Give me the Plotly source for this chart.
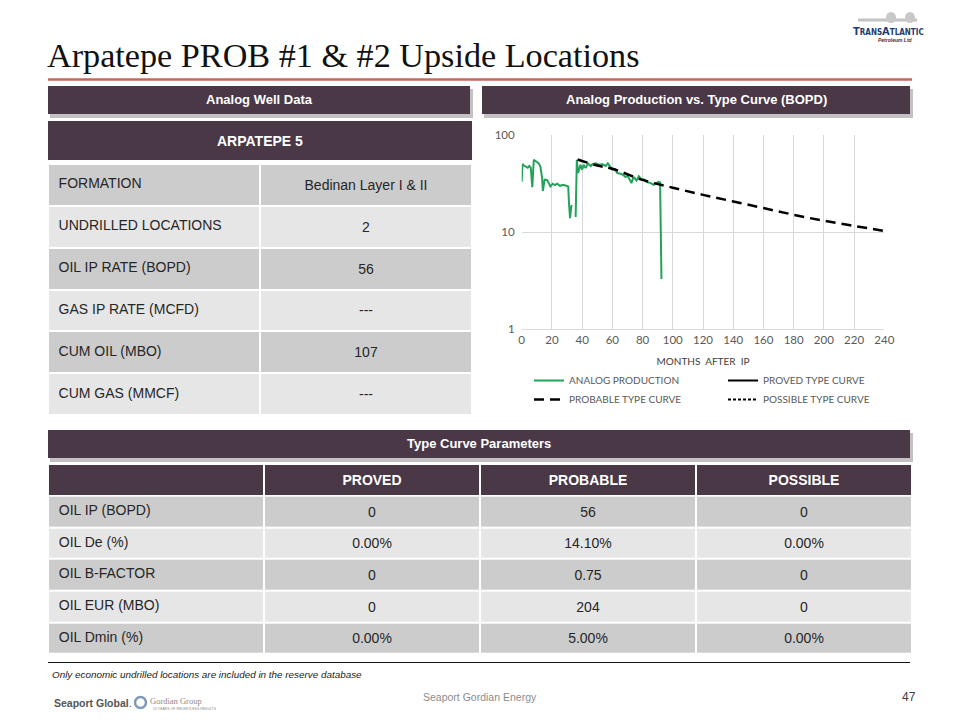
import plotly.graph_objects as go

# the page body has an 8px margin, so the figure is drawn 8px in and 16px smaller
OFF = 8
W, H = 944, 704
PLUM = "#4a3847"
SANS = "Liberation Sans, Arial, sans-serif"
SERIF = "Liberation Serif, Times New Roman, serif"
CHART_FONT = "Lato, Noto Sans, sans-serif"

# analog well data
well_name = "ARPATEPE 5"
well_labels = ["FORMATION", "UNDRILLED LOCATIONS", "OIL IP RATE (BOPD)",
               "GAS IP RATE (MCFD)", "CUM OIL (MBO)", "CUM GAS (MMCF)"]
well_values = ["Bedinan Layer I & II", "2", "56", "---", "107", "---"]

# type curve parameters
param_cols = ["PROVED", "PROBABLE", "POSSIBLE"]
param_labels = ["OIL IP (BOPD)", "OIL De (%)", "OIL B-FACTOR", "OIL EUR (MBO)", "OIL Dmin (%)"]
proved_vals = ["0", "0.00%", "0", "0", "0.00%"]
probable_vals = ["56", "14.10%", "0.75", "204", "5.00%"]
possible_vals = ["0", "0.00%", "0", "0", "0.00%"]

# production (BOPD vs months after IP)
analog_months = [0, 0.5, 1, 3, 4, 5, 6, 7, 8, 9.8, 11.3, 12.4, 13.5, 14, 15.2, 16.8,
                 17.9, 19, 20.5, 22, 23.5, 25.3, 27.5, 29.7, 30.8, 31.3, 32, 32.9, 33.4,
                 34.5, 35.7, 36.5, 37.3, 38.9, 40, 41, 42.3, 43.9, 45.7, 46.8, 49, 51,
                 53.4, 55.6, 57, 58.5, 60, 61.5, 63.3, 65.5, 67, 68.7, 70, 71.5, 72.6,
                 74, 76, 77.5, 79.3, 80.8, 82.5, 84, 85.5, 87.3, 89, 90.5, 91.6, 92.5]
analog_bopd = [33, 50.6, 49, 47.4, 46, 48, 46, 29, 55.6, 53, 51, 47, 36, 26.5, 34.7, 34.5,
               32, 29.5, 31.5, 30.5, 31.5, 30, 30.8, 29.8, 29.5, 20, 13.9, 18.8, 18.5,
               None, 14.3, 55.6, 40.6, 49.5, 43.9, 49.5, 45.6, 51, 48, 50, 51, 49.5,
               50, 48, 51, 47, 44, 44.5, 40.6, 39.9, 39, 36.9, 38, 34.7, 32,
               37, 34, 37.5, 34.7, 35, 33, 32.5, 32, 30.7, 32, 33, 32.5, 3.3]
probable_months = [37, 50, 60, 80, 100, 120, 140, 160, 180, 200, 220, 240]
probable_bopd = [56, 48.5, 45, 34.5, 28.7, 24.2, 20.7, 17.7, 15.1, 13.1, 11.6, 10.3]


def px(x):
    return (x - OFF) / W


def py(y):
    return 1 - (y - OFF) / H


shapes = []
annotations = []


def rect(x0, y0, x1, y1, color, opacity=1):
    shapes.append(dict(type="rect", xref="paper", yref="paper",
                       x0=px(x0), x1=px(x1), y0=py(y1), y1=py(y0),
                       fillcolor=color, line_width=0, opacity=opacity))


def text(s, x, y, size, color="#222222", family=SANS, xanchor="center"):
    annotations.append(dict(text=s, x=px(x), y=py(y), xref="paper", yref="paper",
                            showarrow=False, xanchor=xanchor, yanchor="middle",
                            font=dict(size=size, color=color, family=family)))


def bar(x0, y0, x1, y1, label, size=13, shadow=True):
    if shadow:
        rect(x0 + 2, y0 + 3, x1 + 3, y1 + 4, "#9a9a9a", 0.6)
    rect(x0, y0, x1, y1, PLUM)
    text("<b>%s</b>" % label, (x0 + x1) / 2, (y0 + y1) / 2, size, "white")


# title + rule
text("Arpatepe PROB #1 & #2 Upside Locations", 45, 56, 34.2, "#111111", SERIF, "left")
shapes.append(dict(type="line", xref="paper", yref="paper", x0=px(48), x1=px(912),
                   y0=py(79.5), y1=py(79.5), line=dict(color="#c06a5c", width=2.5)))

# transatlantic logo
shapes.append(dict(type="line", xref="paper", yref="paper", x0=px(858), x1=px(917),
                   y0=py(20), y1=py(20), line=dict(color="#c4c4c4", width=3)))
for cx in [891, 910]:
    shapes.append(dict(type="circle", xref="paper", yref="paper", x0=px(cx - 5), x1=px(cx + 5),
                       y0=py(23), y1=py(12), fillcolor="#c8c8c8", line_width=0))
text("<b>T<span style='font-size:8px'>RANS</span>A<span style='font-size:8px'>TLANTIC</span></b>",
     888, 31, 11, "#1f3b73", "Liberation Sans Narrow, DejaVu Sans Condensed, sans-serif")
text("<b><i>Petroleum Ltd</i></b>", 895, 39.5, 5, "#5a2a2a")

# section bars
bar(48, 86, 470, 114, "Analog Well Data")
bar(482, 86, 910, 114, "Analog Production vs. Type Curve (BOPD)")
bar(48, 121, 472, 160, well_name, 14, shadow=False)
bar(48, 430, 910, 458, "Type Curve Parameters")

# footnote + footer
shapes.append(dict(type="line", xref="paper", yref="paper", x0=px(48), x1=px(910),
                   y0=py(662.5), y1=py(662.5), line=dict(color="#111111", width=1)))
text("<i>Only economic undrilled locations are included in the reserve database</i>",
     50, 674, 9.9, "#222222", SANS, "left")
text("<b>Seaport Global</b>.", 52, 703, 10.5, "#555555", SANS, "left")
shapes.append(dict(type="circle", xref="paper", yref="paper", x0=px(135), x1=px(146),
                   y0=py(708), y1=py(697), line=dict(color="#7f9ab8", width=2.5)))
text("Gordian Group", 148, 701, 8.5, "#8a8a8a", SERIF, "left")
text("20 YEARS OF RELENTLESS RESULTS", 151, 709, 3.5, "#8a8a8a", SANS, "left")
text("Seaport Gordian Energy", 480, 697, 10.5, "#8c8c8c")
text("47", 918, 697, 12, "#404040", SANS, "right")

fig = go.Figure()

# chart (two legends side by side give the two legend columns)
fig.add_trace(go.Scatter(x=analog_months, y=analog_bopd, mode="lines", name="ANALOG PRODUCTION",
                         line=dict(color="#22a25a", width=2), connectgaps=False,
                         hoverinfo="skip", legend="legend"))
fig.add_trace(go.Scatter(x=[None], y=[None], mode="lines", name="PROVED TYPE CURVE",
                         line=dict(color="black", width=2), legend="legend2"))
fig.add_trace(go.Scatter(x=probable_months, y=probable_bopd, mode="lines", name="PROBABLE TYPE CURVE",
                         line=dict(color="black", width=2.5, dash="10px,6px", shape="spline"),
                         hoverinfo="skip", legend="legend"))
fig.add_trace(go.Scatter(x=[None], y=[None], mode="lines", name="POSSIBLE TYPE CURVE",
                         line=dict(color="black", width=2, dash="3px,2px"), legend="legend2"))

# left table
n = len(well_labels)
rows = list(range(n))
fig.add_trace(go.Heatmap(z=[[i % 2, i % 2] for i in rows], x=[0, 1], y=rows,
                         text=[["", v] for v in well_values], texttemplate="%{text}",
                         textfont=dict(family=SANS, size=14, color="#262626"),
                         colorscale=[[0, "#cccccc"], [1, "#e6e6e6"]], zmin=0, zmax=1,
                         showscale=False, xgap=2, ygap=2, hoverinfo="skip",
                         xaxis="x2", yaxis="y2"))
fig.add_trace(go.Scatter(x=[-0.45] * n, y=rows, mode="text", text=well_labels,
                         textposition="middle right", showlegend=False, hoverinfo="skip",
                         textfont=dict(family=SANS, size=14, color="#262626"),
                         xaxis="x2", yaxis="y2"))

# bottom table
m = len(param_labels)
prow = list(range(1, m + 1))
fig.add_trace(go.Heatmap(z=[[1, 1, 1, 1]], x=[0, 1, 2, 3], y=[0],
                         text=[[""] + ["<b>%s</b>" % c for c in param_cols]], texttemplate="%{text}",
                         textfont=dict(family=SANS, size=14, color="white"),
                         colorscale=[[0, PLUM], [1, PLUM]], zmin=0, zmax=1,
                         showscale=False, xgap=2, ygap=2, hoverinfo="skip",
                         xaxis="x3", yaxis="y3"))
fig.add_trace(go.Heatmap(z=[[i % 2] * 4 for i in range(m)], x=[0, 1, 2, 3], y=prow,
                         text=[["", proved_vals[i], probable_vals[i], possible_vals[i]] for i in range(m)],
                         texttemplate="%{text}",
                         textfont=dict(family=SANS, size=14, color="#262626"),
                         colorscale=[[0, "#cccccc"], [1, "#e6e6e6"]], zmin=0, zmax=1,
                         showscale=False, xgap=2, ygap=2, hoverinfo="skip",
                         xaxis="x3", yaxis="y3"))
fig.add_trace(go.Scatter(x=[-0.45] * m, y=prow, mode="text", text=param_labels,
                         textposition="middle right", showlegend=False, hoverinfo="skip",
                         textfont=dict(family=SANS, size=14, color="#262626"),
                         xaxis="x3", yaxis="y3"))

hidden = dict(visible=False, fixedrange=True)
legend_font = dict(family=CHART_FONT, size=10, color="#595959")

fig.update_layout(
    width=W, height=H, autosize=False,
    margin=dict(l=0, r=0, t=0, b=0, autoexpand=False),
    paper_bgcolor="white", plot_bgcolor="white",
    shapes=shapes, annotations=annotations,
    xaxis=dict(domain=[px(521.7), px(884.3)], range=[0, 240], dtick=20,
               showgrid=True, gridcolor="#d9d9d9", gridwidth=1, zeroline=False,
               showline=True, linecolor="#d9d9d9", ticks="", automargin=False,
               tickfont=dict(family=CHART_FONT, size=11.5, color="#595959"),
               title=dict(text="MONTHS  AFTER  IP", standoff=12,
                          font=dict(family=CHART_FONT, size=10, color="#404040"))),
    yaxis=dict(domain=[py(329.3), py(135)], type="log", range=[0, 2], dtick=1,
               showgrid=True, gridcolor="#d9d9d9", gridwidth=1, zeroline=False,
               ticks="", ticklabelstandoff=6, automargin=False,
               tickfont=dict(family=CHART_FONT, size=11.5, color="#595959")),
    xaxis2=dict(domain=[px(48), px(472)], range=[-0.5, 1.5], anchor="y2", **hidden),
    yaxis2=dict(domain=[py(415), py(164)], range=[n - 0.5, -0.5], anchor="x2", **hidden),
    xaxis3=dict(domain=[px(48), px(912)], range=[-0.5, 3.5], anchor="y3", **hidden),
    yaxis3=dict(domain=[py(654), py(464)], range=[m + 0.5, -0.5], anchor="x3", **hidden),
    showlegend=True,
    legend=dict(x=px(529), y=py(366), xanchor="left", yanchor="top",
                bgcolor="rgba(0,0,0,0)", font=legend_font, tracegroupgap=0),
    legend2=dict(x=px(723), y=py(366), xanchor="left", yanchor="top",
                 bgcolor="rgba(0,0,0,0)", font=legend_font, tracegroupgap=0),
)

fig.write_html("out.html")
